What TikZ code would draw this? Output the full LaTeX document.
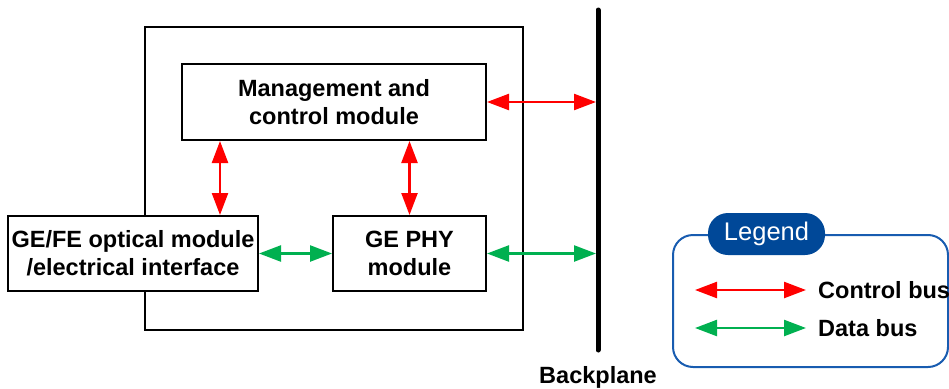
\documentclass[tikz,border=0pt]{standalone}
\usepackage{fontspec}
\setmainfont{Liberation Sans}
\usepackage{tikz}
\usetikzlibrary{positioning}
\usetikzlibrary{arrows.meta}

\definecolor{busred}{RGB}{255,0,0}
\definecolor{busgreen}{RGB}{0,176,80}
\definecolor{legendblue}{RGB}{0,72,152}
\definecolor{legendline}{RGB}{24,92,176}

\begin{document}
\begin{tikzpicture}
 [ x=1pt, y=-1pt
 , module/.style={draw, fill=white, line width=2pt, align=center, font=\fontsize{23.5}{28}\selectfont\bfseries, inner sep=0pt}
 , bus/.style={line width=2.4pt, {Triangle[length=22pt,width=16pt]}-{Triangle[length=22pt,width=16pt]}}
 , control bus/.style={bus, busred}
 , data bus/.style={bus, busgreen}
 , caption/.style={font=\fontsize{23.5}{28}\selectfont\bfseries}
 ]
  \useasboundingbox (0,0) rectangle (949,388);
  % board and modules
  \node (board) [draw, line width=2pt, minimum width=378pt, minimum height=303pt] at (334,178.5) {};
  \node (mgmt) [module, minimum width=304pt, minimum height=76pt] at (334,102) {Management and\\control module};
  \node (phy) [module, minimum width=153pt, minimum height=75pt] at (409.5,253.5) {GE PHY\\module};
  \node (gefe) [module, minimum width=250pt, minimum height=75pt] at (133,253.5) {GE/FE optical module\\/electrical interface};
  % backplane
  \coordinate (bptop) at (598,10);
  \coordinate (bpbot) at (598,350);
  \coordinate (bp) at (596,0);
  \draw [line width=5pt, line cap=round] (bptop) -- (bpbot);
  \node (bplabel) [caption] at (598,377) {Backplane};
  % buses
  \draw [control bus] (mgmt.east) -- (mgmt.east -| bp);
  \draw [control bus] ([xshift=39pt]mgmt.south west) -- ([xshift=39pt]mgmt.south west |- gefe.north);
  \draw [control bus] (mgmt.south -| phy.north) -- (phy.north);
  \draw [data bus] (gefe.east) -- (phy.west);
  \draw [data bus] (phy.east) -- (phy.east -| bp);
  % legend
  \node (legend) [draw=legendline, line width=2pt, rounded corners=20pt, minimum width=275pt, minimum height=132pt] at (810.5,301) {};
  \node (title) [fill=legendblue, rounded corners=20pt, text=white, minimum width=117pt, minimum height=42pt, font=\fontsize{25.5}{28}\selectfont] at (766.5,234) {Legend};
  \coordinate (ctrlL) at (695,290);
  \coordinate (ctrlR) at (806,290);
  \coordinate (dataL) at (695,328);
  \coordinate (dataR) at (806,328);
  \draw [control bus] (ctrlL) -- (ctrlR);
  \draw [data bus] (dataL) -- (dataR);
  \node (ctrltext) [caption, anchor=west, inner sep=0pt] at (818,290) {Control bus};
  \node (datatext) [caption, anchor=west, inner sep=0pt] at (818,328) {Data bus};
\end{tikzpicture}
\end{document}
